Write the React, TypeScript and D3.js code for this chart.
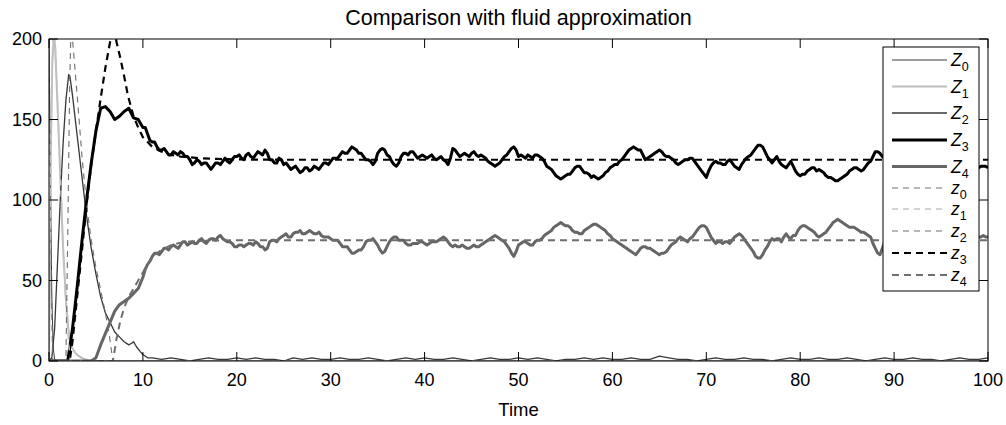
import React from 'react';
import * as d3 from 'd3';

const W = 1006;
const H = 425;
const PLOT = { left: 49, right: 988, top: 39, bottom: 361 };

const TITLE = 'Comparison with fluid approximation';
const X_LABEL = 'Time';
const X_TICKS = [0, 10, 20, 30, 40, 50, 60, 70, 80, 90, 100];
const Y_TICKS = [0, 50, 100, 150, 200];

// Transient stochastic traces: [time, value]
const Z0: [number, number][] = [
  [0, 200], [0.15, 120], [0.3, 40], [0.45, 8], [0.6, 1], [0.8, 0], [100, 0],
];
const Z1: [number, number][] = [
  [0, 0], [0.1, 60], [0.2, 130], [0.35, 185], [0.5, 200], [0.65, 196], [0.9, 160],
  [1.2, 115], [1.5, 70], [1.8, 38], [2.1, 18], [2.4, 9], [2.8, 5], [3.2, 3],
  [3.6, 1.5], [4.2, 0.5], [5, 0], [100, 0],
];
const Z2_HEAD: [number, number][] = [
  [0, 0], [0.3, 2], [0.6, 20], [0.9, 60], [1.2, 100], [1.5, 135], [1.8, 162],
  [2.1, 178], [2.25, 176], [2.5, 165], [3, 140], [3.5, 115], [4, 90], [4.5, 70],
  [5, 54], [5.5, 40], [6, 30], [6.5, 24], [7, 18], [7.5, 15], [8, 12], [8.5, 10],
  [8.8, 11], [9, 12], [9.3, 9], [9.7, 6], [10, 4], [10.5, 2],
];
// Z2 tail, one value per time unit from t = 11 to t = 100
const Z2_TAIL_START = 11;
const Z2_TAIL = [
  2, 1, 2, 1, 0, 1, 2, 1, 1, 2,
  1, 2, 1, 1, 0, 2, 1, 2, 1, 1,
  2, 1, 1, 2, 1, 0, 1, 2, 1, 2,
  1, 1, 2, 1, 0, 1, 2, 1, 1, 2,
  1, 2, 1, 0, 1, 1, 2, 1, 2, 1,
  1, 2, 1, 1, 3, 2, 1, 1, 0, 1,
  2, 1, 1, 2, 1, 1, 0, 1, 2, 1,
  1, 2, 1, 1, 2, 1, 0, 1, 2, 1,
  1, 2, 1, 1, 0, 1, 2, 1, 1, 2,
];

// Z3, Z4 sampled every 0.5 time units from t = 0 to t = 100
const STEP = 0.5;
const Z3 = [
  0, 0, 0, 0, 0, 20, 46, 74, 100, 123,
  143, 157, 158, 155, 150, 152, 155, 157, 151, 150,
  145, 141, 136, 133, 131, 130, 128, 129, 130, 127,
  125, 123, 124, 123, 121, 121, 123, 124, 124, 125,
  127, 126, 128, 127, 128, 129, 131, 125, 123, 126,
  122, 121, 120, 119, 118, 120, 119, 120, 121, 123,
  124, 126, 128, 129, 131, 132, 129, 127, 125, 122,
  129, 132, 128, 124, 121, 127, 129, 130, 128, 127,
  127, 127, 126, 126, 125, 122, 132, 129, 128, 128,
  129, 128, 128, 126, 123, 121, 123, 127, 130, 133,
  127, 127, 128, 126, 128, 126, 121, 119, 115, 113,
  115, 116, 120, 121, 117, 116, 115, 113, 115, 118,
  121, 122, 125, 129, 132, 132, 131, 125, 127, 129,
  131, 128, 127, 125, 122, 124, 125, 126, 122, 118,
  114, 121, 124, 123, 122, 125, 121, 119, 124, 127,
  130, 134, 133, 127, 123, 127, 122, 120, 124, 118,
  115, 116, 119, 120, 119, 117, 114, 113, 112, 114,
  116, 119, 120, 118, 121, 124, 130, 129, 126, 124,
  123, 125, 127, 126, 124, 122, 123, 125, 126, 124,
  122, 121, 123, 124, 122, 121, 120, 121, 120, 121,
  120,
];
// Extra readings between grid points (t = 10.25, 10.75, ..., 99.75)
const MID_START = 10.25;
const Z3_MID = [
  145, 137, 136, 131, 132, 128, 130, 128, 129, 127,
  122, 125, 122, 123, 119, 123, 122, 126, 123, 127,
  128, 125, 129, 126, 130, 128, 129, 125, 123, 125,
  123, 119, 121, 117, 120, 118, 121, 119, 123, 122,
  126, 126, 130, 129, 133, 131, 129, 125, 124, 124,
  131, 131, 127, 122, 123, 129, 128, 130, 126, 128,
  126, 128, 125, 127, 124, 126, 131, 127, 129, 127,
  130, 127, 127, 124, 122, 122, 125, 128, 132, 131,
  128, 126, 127, 128, 127, 124, 120, 117, 114, 114,
  116, 118, 121, 119, 117, 114, 114, 114, 117, 120,
  122, 124, 127, 131, 133, 131, 128, 126, 128, 130,
  130, 127, 126, 123, 123, 125, 126, 124, 120, 116,
  118, 123, 123, 122, 124, 123, 120, 122, 126, 128,
  132, 134, 130, 125, 125, 124, 121, 122, 121, 116,
  116, 118, 120, 118, 118, 115, 114, 112, 113, 115,
  118, 120, 119, 119, 123, 127, 130, 127, 125, 123,
  124, 126, 126, 125, 123, 122, 124, 126, 125, 123,
  121, 122, 124, 123, 121, 120, 121, 120, 121, 121,
];
const Z4 = [
  0, 0, 0, 0, 0, 0, 0, 0, 0, 0,
  2, 10, 17, 24, 31, 35, 37, 39, 42, 45,
  52, 60, 65, 67, 68, 70, 71, 71, 72, 74,
  73, 73, 75, 74, 75, 76, 77, 76, 74, 73,
  71, 72, 72, 73, 74, 71, 69, 74, 75, 76,
  78, 77, 79, 80, 79, 80, 80, 79, 78, 77,
  76, 75, 73, 71, 69, 67, 69, 71, 75, 76,
  72, 67, 71, 76, 77, 75, 73, 72, 73, 74,
  73, 73, 74, 75, 77, 74, 71, 71, 72, 70,
  71, 71, 72, 74, 76, 78, 76, 74, 70, 65,
  72, 74, 73, 72, 75, 76, 79, 81, 84, 86,
  84, 83, 80, 79, 81, 83, 85, 84, 82, 79,
  76, 74, 72, 70, 68, 66, 70, 71, 70, 68,
  66, 67, 70, 73, 76, 76, 74, 77, 81, 84,
  83, 77, 73, 74, 74, 73, 77, 79, 76, 72,
  68, 64, 66, 71, 76, 76, 74, 79, 76, 78,
  83, 84, 82, 80, 77, 79, 82, 86, 88, 86,
  84, 83, 82, 80, 79, 77, 70, 66, 74, 76,
  77, 78, 76, 75, 74, 76, 77, 78, 76, 75,
  74, 76, 77, 78, 77, 76, 75, 76, 77, 78,
  77,
];
const Z4_MID = [
  57, 62, 67, 66, 70, 69, 72, 70, 74, 72,
  74, 73, 76, 73, 76, 75, 78, 75, 74, 71,
  72, 71, 73, 72, 73, 71, 70, 75, 74, 77,
  79, 77, 80, 81, 79, 81, 79, 80, 77, 77,
  75, 75, 71, 71, 67, 68, 69, 74, 75, 74,
  69, 68, 74, 77, 75, 75, 72, 73, 73, 74,
  72, 74, 74, 76, 76, 72, 72, 71, 71, 70,
  72, 71, 73, 75, 77, 77, 75, 72, 67, 68,
  73, 74, 72, 74, 75, 78, 80, 83, 85, 85,
  84, 81, 80, 79, 82, 84, 85, 83, 81, 78,
  75, 73, 71, 69, 67, 68, 71, 70, 69, 67,
  67, 68, 72, 74, 77, 75, 76, 79, 83, 84,
  80, 75, 74, 73, 74, 75, 78, 78, 74, 70,
  65, 64, 69, 74, 75, 76, 77, 77, 78, 81,
  84, 83, 81, 78, 78, 80, 84, 87, 87, 85,
  83, 83, 81, 80, 78, 73, 67, 70, 75, 76,
  78, 77, 75, 75, 75, 77, 78, 77, 75, 74,
  75, 77, 78, 77, 76, 75, 76, 77, 77, 77,
];

// Fluid approximation: [time, value]
const z0: [number, number][] = [[0, 200], [0.12, 120], [0.25, 50], [0.35, 10], [0.4, 0], [100, 0]];
const z1: [number, number][] = [
  [0, 0], [0.1, 70], [0.25, 160], [0.45, 210], [0.6, 205], [0.9, 165], [1.2, 118],
  [1.5, 72], [1.8, 35], [2.1, 10], [2.3, 0], [100, 0],
];
const z2: [number, number][] = [
  [0, 0], [1.8, 0], [2.0, 80], [2.2, 170], [2.35, 210], [2.5, 200], [3, 165],
  [3.5, 128], [4, 97], [4.5, 75], [5, 58], [5.5, 44], [6, 30], [6.4, 17], [6.8, 0], [100, 0],
];
const z3: [number, number][] = [
  [0, 0], [2.2, 0], [2.5, 12], [3, 40], [3.5, 68], [4, 97], [4.5, 122], [5, 143],
  [5.5, 163], [6, 182], [6.5, 198], [6.85, 208], [7.2, 198], [7.6, 188], [8, 177],
  [8.4, 165], [9, 152], [9.5, 145], [10, 139], [11, 133], [12, 130], [13, 128],
  [14, 127], [16, 126], [18, 125.5], [20, 125.2], [25, 125], [100, 125],
];
const z4: [number, number][] = [
  [0, 0], [6.8, 0], [7.2, 14], [7.6, 25], [8, 33], [8.5, 40], [9, 45], [9.5, 50],
  [10, 55], [10.5, 60], [11, 64], [11.5, 67], [12, 69], [13, 72], [14, 73.5],
  [15, 74.3], [17, 74.8], [20, 75], [100, 75],
];

const gridSeries = (vals: number[], mids: number[]): [number, number][] => {
  const pts: [number, number][] = vals.map((v, i) => [i * STEP, v]);
  mids.forEach((v, j) => pts.push([MID_START + j * STEP, v]));
  return pts.sort((a, b) => a[0] - b[0]);
};
const tailSeries = (start: number, vals: number[]): [number, number][] => vals.map((v, i) => [start + i, v]);

const SERIES = [
  { name: 'Z', sub: '0', data: Z0, color: '#3c3c3c', width: 1, dash: '' },
  { name: 'Z', sub: '1', data: Z1, color: '#bdbdbd', width: 2, dash: '' },
  { name: 'Z', sub: '2', data: [...Z2_HEAD, ...tailSeries(Z2_TAIL_START, Z2_TAIL)], color: '#383838', width: 1.3, dash: '' },
  { name: 'Z', sub: '3', data: gridSeries(Z3, Z3_MID), color: '#000000', width: 3, dash: '' },
  { name: 'Z', sub: '4', data: gridSeries(Z4, Z4_MID), color: '#666666', width: 3, dash: '' },
  { name: 'z', sub: '0', data: z0, color: '#6e6e6e', width: 1, dash: '6,5' },
  { name: 'z', sub: '1', data: z1, color: '#c4c4c4', width: 1.5, dash: '6,5' },
  { name: 'z', sub: '2', data: z2, color: '#6e6e6e', width: 1.1, dash: '6,5' },
  { name: 'z', sub: '3', data: z3, color: '#000000', width: 2.2, dash: '7,5' },
  { name: 'z', sub: '4', data: z4, color: '#6e6e6e', width: 2, dash: '7,5' },
];

const LEGEND_Y = [60, 86.5, 113, 140, 166.5, 188, 209, 231, 253, 275];

const FONT = '"Liberation Sans", Arial, Helvetica, sans-serif';

export default function App() {
  const x = d3.scaleLinear().domain([0, 100]).range([PLOT.left, PLOT.right]);
  const y = d3.scaleLinear().domain([0, 200]).range([PLOT.bottom, PLOT.top]);
  const line = d3
    .line<[number, number]>()
    .x((d) => x(d[0]))
    .y((d) => y(d[1]));
  const tickLen = 9;

  return (
    <svg
      width={W}
      height={H}
      style={{ position: 'absolute', left: 0, top: 0, background: '#fff' }}
      fontFamily={FONT}
    >
      <defs>
        <clipPath id="plotclip">
          <rect x={PLOT.left} y={PLOT.top} width={PLOT.right - PLOT.left} height={PLOT.bottom - PLOT.top} />
        </clipPath>
      </defs>
      <rect x={0} y={0} width={W} height={H} fill="#fff" />
      <text x={(PLOT.left + PLOT.right) / 2} y={25} textAnchor="middle" fontSize={21.5} fill="#000">
        {TITLE}
      </text>
      <g clipPath="url(#plotclip)">
        {SERIES.map((s, i) => (
          <path
            key={i}
            d={line(s.data) || ''}
            fill="none"
            stroke={s.color}
            strokeWidth={s.width}
            strokeDasharray={s.dash || undefined}
            strokeLinejoin="round"
          />
        ))}
      </g>
      <g stroke="#000" strokeWidth={1}>
        {X_TICKS.map((t) => (
          <g key={'xt' + t}>
            <line x1={x(t)} x2={x(t)} y1={PLOT.bottom} y2={PLOT.bottom - tickLen} />
            <line x1={x(t)} x2={x(t)} y1={PLOT.top} y2={PLOT.top + tickLen} />
          </g>
        ))}
        {Y_TICKS.map((t) => (
          <g key={'yt' + t}>
            <line x1={PLOT.left} x2={PLOT.left + tickLen} y1={y(t)} y2={y(t)} />
            <line x1={PLOT.right} x2={PLOT.right - tickLen} y1={y(t)} y2={y(t)} />
          </g>
        ))}
        <rect
          x={PLOT.left}
          y={PLOT.top}
          width={PLOT.right - PLOT.left}
          height={PLOT.bottom - PLOT.top}
          fill="none"
        />
      </g>
      {X_TICKS.map((t) => (
        <text key={'xl' + t} x={x(t)} y={386} textAnchor="middle" fontSize={18} fill="#000">
          {t}
        </text>
      ))}
      {Y_TICKS.map((t) => (
        <text key={'yl' + t} x={42} y={y(t)} dy="0.35em" textAnchor="end" fontSize={18} fill="#000">
          {t}
        </text>
      ))}
      <text x={(PLOT.left + PLOT.right) / 2} y={416} textAnchor="middle" fontSize={18.5} fill="#000">
        {X_LABEL}
      </text>
      <g>
        <rect x={883} y={47} width={96} height={244} fill="#fff" stroke="#000" strokeWidth={1} />
        {SERIES.map((s, i) => (
          <g key={'lg' + i}>
            <line
              x1={892}
              x2={947}
              y1={LEGEND_Y[i]}
              y2={LEGEND_Y[i]}
              stroke={s.color}
              strokeWidth={s.width}
              strokeDasharray={s.dash || undefined}
            />
            <text x={951} y={LEGEND_Y[i] + 6} fontSize={17.5} fill="#000">
              <tspan fontStyle="italic">{s.name}</tspan>
              <tspan fontSize={12.5} dy={5}>{s.sub}</tspan>
            </text>
          </g>
        ))}
      </g>
    </svg>
  );
}
